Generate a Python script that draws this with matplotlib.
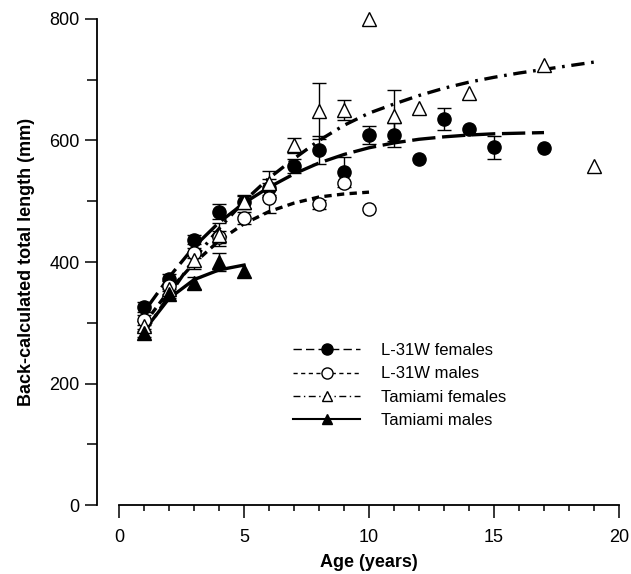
import numpy as np
import matplotlib.pyplot as plt
from matplotlib.lines import Line2D
from matplotlib.ticker import MultipleLocator

plt.rcParams['font.family'] = ['Liberation Sans', 'DejaVu Sans']

# observed means (age, length mm, error)
lf_age = [1, 2, 3, 4, 5, 6, 7, 8, 9, 10, 11, 12, 13, 14, 15, 17]
lf_len = [326, 372, 437, 483, 499, 522, 558, 584, 548, 609, 609, 570, 635, 619, 589, 588]
lf_err = [8, 8, 8, 12, 10, 15, 12, 23, 25, 15, 20, 0, 18, 0, 19, 0]

lm_age = [1, 2, 3, 4, 5, 6, 8, 9, 10]
lm_len = [305, 360, 415, 441, 472, 505, 495, 530, 487]
lm_err = [8, 8, 8, 10, 10, 25, 7, 0, 0]

tf_age = [1, 2, 3, 4, 5, 6, 7, 8, 9, 10, 11, 12, 14, 17, 19]
tf_len = [295, 355, 403, 445, 499, 530, 592, 649, 650, 800, 641, 654, 678, 724, 558]
tf_err = [8, 8, 14, 19, 12, 20, 12, 46, 17, 0, 42, 0, 0, 0, 0]

tm_age = [1, 2, 3, 4, 5]
tm_len = [283, 348, 365, 400, 385]
tm_err = [6, 8, 10, 15, 0]

# fitted growth curves
lf_fit_age = list(range(1, 18))
lf_fit = [318, 375, 425, 465, 497, 523, 545, 563, 577, 588, 596, 602, 606, 609, 611, 612, 613]
lm_fit_age = list(range(1, 11))
lm_fit = [298, 353, 398, 435, 463, 483, 497, 507, 512, 515]
tf_fit_age = list(range(1, 20))
tf_fit = [283, 345, 405, 455, 500, 538, 570, 600, 625, 645, 660, 674, 686, 696, 704, 711, 717, 723, 729]
tm_fit_age = [1, 2, 3, 4, 5]
tm_fit = [287, 340, 371, 387, 395]

fig = plt.figure(figsize=(6.31, 5.74), dpi=100)
ax = fig.add_axes([0.1886, 0.12, 0.7924, 0.847])

series = [
    (lf_age, lf_len, lf_err, lf_fit_age, lf_fit, 'o', 'black', (0, (7, 2)), 'L-31W females'),
    (lm_age, lm_len, lm_err, lm_fit_age, lm_fit, 'o', 'white', (0, (2.2, 1.6)), 'L-31W males'),
    (tf_age, tf_len, tf_err, tf_fit_age, tf_fit, '^', 'white', (0, (4, 2, 0.8, 2)), 'Tamiami females'),
    (tm_age, tm_len, tm_err, tm_fit_age, tm_fit, '^', 'black', '-', 'Tamiami males'),
]
legend_ls = [(0, (6, 3)), (0, (3, 2.5)), (0, (5, 2.5, 1, 2.5)), '-']

handles = []
for (age, ln, err, fa, fv, mk, fc, ls, lab), hls in zip(series, legend_ls):
    ax.plot(fa, fv, color='black', lw=2.4, ls=ls, zorder=2)
    a = np.array(age, dtype=float)
    v = np.array(ln, dtype=float)
    e = np.array(err, dtype=float)
    m = e > 0
    ax.errorbar(a[m], v[m], yerr=e[m], fmt='none', ecolor='black',
                elinewidth=1, capsize=5, capthick=1, zorder=3)
    ax.plot(a, v, ls='none', marker=mk, ms=9.5,
            mfc=fc, mec='black', mew=1, zorder=4, clip_on=False)
    handles.append(Line2D([], [], color='black', lw=1.5 if hls == '-' else 1, ls=hls,
                          marker=mk, ms=8 if mk == 'o' else 7, mfc=fc, mec='black', mew=1))

ax.legend(handles, [s[-1] for s in series], loc='upper left', bbox_to_anchor=(0.335, 0.347),
          frameon=False, fontsize=12, handlelength=4.0, handletextpad=1.25,
          labelspacing=0.5, borderaxespad=0)

ax.set_xlim(0, 20)
ax.set_ylim(0, 800)
ax.spines['top'].set_visible(False)
ax.spines['right'].set_visible(False)
ax.spines['left'].set_position(('outward', 16))
ax.spines['left'].set_linewidth(1.3)
ax.spines['bottom'].set_linewidth(1.3)
ax.xaxis.set_major_locator(MultipleLocator(5))
ax.xaxis.set_minor_locator(MultipleLocator(1))
ax.yaxis.set_major_locator(MultipleLocator(200))
ax.yaxis.set_minor_locator(MultipleLocator(100))
ax.tick_params(axis='both', which='major', length=9, width=1.1, labelsize=13, direction='out')
ax.tick_params(axis='x', which='minor', length=4, width=1.1, direction='out')
ax.tick_params(axis='y', which='minor', length=7, width=1.1, direction='out')
ax.tick_params(axis='x', pad=8)

ax.set_xlabel('Age (years)', fontsize=13, fontweight='bold', labelpad=6)
ax.set_ylabel('Back-calculated total length (mm)', fontsize=13, fontweight='bold', labelpad=10)

fig.savefig('out.png', dpi=100)
